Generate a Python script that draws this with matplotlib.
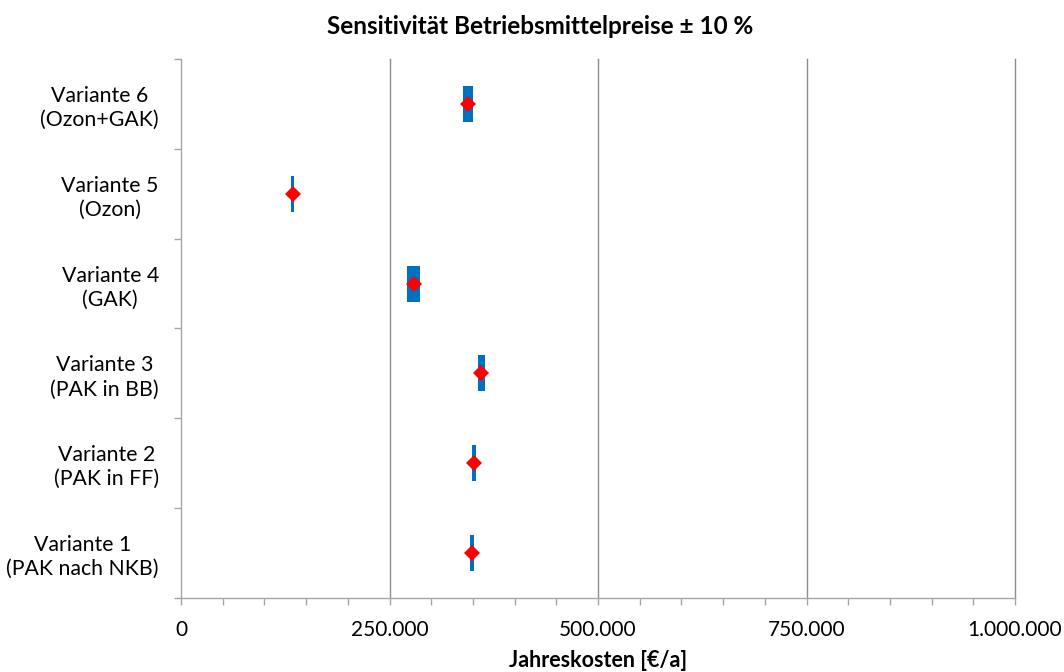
import matplotlib
matplotlib.use("Agg")
import matplotlib.pyplot as plt
from matplotlib.ticker import FuncFormatter, MultipleLocator, FixedLocator

plt.rcParams['font.family'] = ['Lato', 'DejaVu Sans']

# Variants (bottom to top)
variants = [
    "Variante 1\n(PAK nach NKB)",
    "Variante 2\n(PAK in FF)",
    "Variante 3\n(PAK in BB)",
    "Variante 4\n(GAK)",
    "Variante 5\n(Ozon)",
    "Variante 6\n(Ozon+GAK)",
]
# Annual costs at base prices [€/a]
base_costs = [349000, 351000, 360000, 279000, 134000, 344000]
# Annual costs with consumable prices -10 % / +10 %
low_costs = [346500, 349000, 356500, 271000, 132000, 338000]
high_costs = [351700, 354000, 365000, 287000, 136000, 350000]

fig = plt.figure(figsize=(10.64, 6.72), dpi=100)
ax = fig.add_axes([181 / 1064, 1 - 598 / 672, (1015 - 181) / 1064, (598 - 59) / 672])

ypos = list(range(len(variants)))
widths = [h - l for l, h in zip(low_costs, high_costs)]
ax.barh(ypos, widths, left=low_costs, height=0.4, color='#0070C0', zorder=3)
ax.plot(base_costs, ypos, linestyle='none', marker='D', markersize=8.5,
        color='#FF0000', markeredgewidth=0, zorder=4)

ax.set_xlim(0, 1000000)
ax.set_ylim(-0.5, len(variants) - 0.5)

# x axis: major ticks every 250.000, minor every 50.000
ax.xaxis.set_major_locator(MultipleLocator(250000))
ax.xaxis.set_minor_locator(MultipleLocator(50000))
ax.xaxis.set_major_formatter(FuncFormatter(lambda v, p: f"{int(v):,}".replace(",", ".")))
ax.tick_params(axis='x', which='both', direction='out', length=5, width=1,
               color='#A6A6A6', labelsize=15, pad=11, labelcolor='#000000')

# vertical gridlines at the major ticks (drawn unclipped so the last one is full width)
for xv in range(250000, 1000001, 250000):
    ax.axvline(xv, color='#8C8C8C', linewidth=1, zorder=0, clip_on=False)

# y axis: ticks at category boundaries, labels at centers
ax.yaxis.set_major_locator(FixedLocator([i - 0.5 for i in range(len(variants) + 1)]))
ax.yaxis.set_major_formatter(FuncFormatter(lambda v, p: ""))
ax.yaxis.set_minor_locator(FixedLocator(ypos))
ax.set_yticklabels(variants, minor=True, multialignment='center', fontsize=15.3,
                   linespacing=1.25)
ax.tick_params(axis='y', which='major', direction='out', length=5, width=1, color='#A6A6A6')
ax.tick_params(axis='y', which='minor', length=0, pad=16, labelcolor='#000000')

for side in ('top', 'right'):
    ax.spines[side].set_visible(False)
for side in ('left', 'bottom'):
    ax.spines[side].set_color('#A6A6A6')
    ax.spines[side].set_linewidth(1)

ax.set_xlabel("Jahreskosten [€/a]", fontsize=15.5, fontweight='bold', labelpad=7)
fig.text(540 / 1064, 1 - 27 / 672, "Sensitivität Betriebsmittelpreise ± 10 %",
         ha='center', va='center', fontsize=17.5, fontweight='bold')

fig.savefig("out.png", dpi=100)
